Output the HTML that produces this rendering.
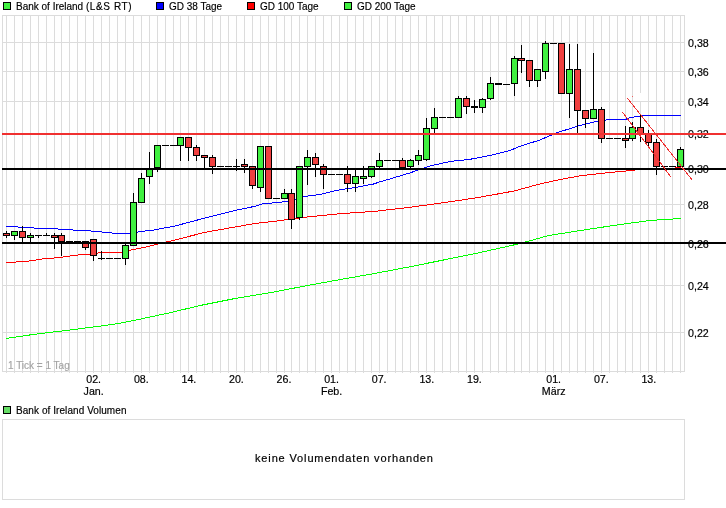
<!DOCTYPE html>
<html><head><meta charset="utf-8"><title>Bank of Ireland (L&amp;S RT)</title>
<style>
html,body{margin:0;padding:0;background:#fff;}
body{width:726px;height:508px;position:relative;overflow:hidden;font-family:"Liberation Sans",Arial,sans-serif;font-size:10.67px;color:#000;}
svg{position:absolute;left:0;top:0;}
.t{position:absolute;white-space:nowrap;line-height:12px;-webkit-text-stroke:0.18px currentColor;}
.s{transform:scaleX(0.937);transform-origin:0 0;}
.c{text-align:center;width:60px;margin-left:-30px;}
.lb{position:absolute;width:6px;height:6px;border:1px solid #000;}
</style></head><body>

<svg width="726" height="508" viewBox="0 0 726 508">
<g shape-rendering="crispEdges" fill="#dcdcdc">
<rect x="6" y="15" width="1" height="358"/>
<rect x="14" y="15" width="1" height="358"/>
<rect x="22" y="15" width="1" height="358"/>
<rect x="30" y="15" width="1" height="358"/>
<rect x="38" y="15" width="1" height="358"/>
<rect x="46" y="15" width="1" height="358"/>
<rect x="54" y="15" width="1" height="358"/>
<rect x="61" y="15" width="1" height="358"/>
<rect x="69" y="15" width="1" height="358"/>
<rect x="77" y="15" width="1" height="358"/>
<rect x="85" y="15" width="1" height="358"/>
<rect x="93" y="15" width="1" height="358"/>
<rect x="101" y="15" width="1" height="358"/>
<rect x="109" y="15" width="1" height="358"/>
<rect x="117" y="15" width="1" height="358"/>
<rect x="125" y="15" width="1" height="358"/>
<rect x="133" y="15" width="1" height="358"/>
<rect x="141" y="15" width="1" height="358"/>
<rect x="149" y="15" width="1" height="358"/>
<rect x="157" y="15" width="1" height="358"/>
<rect x="165" y="15" width="1" height="358"/>
<rect x="173" y="15" width="1" height="358"/>
<rect x="180" y="15" width="1" height="358"/>
<rect x="188" y="15" width="1" height="358"/>
<rect x="196" y="15" width="1" height="358"/>
<rect x="204" y="15" width="1" height="358"/>
<rect x="212" y="15" width="1" height="358"/>
<rect x="220" y="15" width="1" height="358"/>
<rect x="228" y="15" width="1" height="358"/>
<rect x="236" y="15" width="1" height="358"/>
<rect x="244" y="15" width="1" height="358"/>
<rect x="252" y="15" width="1" height="358"/>
<rect x="260" y="15" width="1" height="358"/>
<rect x="268" y="15" width="1" height="358"/>
<rect x="276" y="15" width="1" height="358"/>
<rect x="284" y="15" width="1" height="358"/>
<rect x="291" y="15" width="1" height="358"/>
<rect x="299" y="15" width="1" height="358"/>
<rect x="307" y="15" width="1" height="358"/>
<rect x="315" y="15" width="1" height="358"/>
<rect x="323" y="15" width="1" height="358"/>
<rect x="331" y="15" width="1" height="358"/>
<rect x="339" y="15" width="1" height="358"/>
<rect x="347" y="15" width="1" height="358"/>
<rect x="355" y="15" width="1" height="358"/>
<rect x="363" y="15" width="1" height="358"/>
<rect x="371" y="15" width="1" height="358"/>
<rect x="379" y="15" width="1" height="358"/>
<rect x="387" y="15" width="1" height="358"/>
<rect x="395" y="15" width="1" height="358"/>
<rect x="402" y="15" width="1" height="358"/>
<rect x="410" y="15" width="1" height="358"/>
<rect x="418" y="15" width="1" height="358"/>
<rect x="426" y="15" width="1" height="358"/>
<rect x="434" y="15" width="1" height="358"/>
<rect x="442" y="15" width="1" height="358"/>
<rect x="450" y="15" width="1" height="358"/>
<rect x="458" y="15" width="1" height="358"/>
<rect x="466" y="15" width="1" height="358"/>
<rect x="474" y="15" width="1" height="358"/>
<rect x="482" y="15" width="1" height="358"/>
<rect x="490" y="15" width="1" height="358"/>
<rect x="498" y="15" width="1" height="358"/>
<rect x="506" y="15" width="1" height="358"/>
<rect x="514" y="15" width="1" height="358"/>
<rect x="521" y="15" width="1" height="358"/>
<rect x="529" y="15" width="1" height="358"/>
<rect x="537" y="15" width="1" height="358"/>
<rect x="545" y="15" width="1" height="358"/>
<rect x="553" y="15" width="1" height="358"/>
<rect x="561" y="15" width="1" height="358"/>
<rect x="569" y="15" width="1" height="358"/>
<rect x="577" y="15" width="1" height="358"/>
<rect x="585" y="15" width="1" height="358"/>
<rect x="593" y="15" width="1" height="358"/>
<rect x="601" y="15" width="1" height="358"/>
<rect x="609" y="15" width="1" height="358"/>
<rect x="617" y="15" width="1" height="358"/>
<rect x="625" y="15" width="1" height="358"/>
<rect x="632" y="15" width="1" height="358"/>
<rect x="640" y="15" width="1" height="358"/>
<rect x="648" y="15" width="1" height="358"/>
<rect x="656" y="15" width="1" height="358"/>
<rect x="664" y="15" width="1" height="358"/>
<rect x="672" y="15" width="1" height="358"/>
<rect x="680" y="15" width="1" height="358"/>
<rect x="2" y="42" width="683" height="1"/>
<rect x="2" y="71" width="683" height="1"/>
<rect x="2" y="101" width="683" height="1"/>
<rect x="2" y="133" width="683" height="1"/>
<rect x="2" y="168" width="683" height="1"/>
<rect x="2" y="204" width="683" height="1"/>
<rect x="2" y="243" width="683" height="1"/>
<rect x="2" y="285" width="683" height="1"/>
<rect x="2" y="332" width="683" height="1"/>
<rect x="2" y="15" width="683" height="1"/><rect x="2" y="371" width="683" height="1"/><rect x="2" y="15" width="1" height="357"/><rect x="684" y="15" width="1" height="357"/>
<rect x="2" y="419" width="683" height="1"/><rect x="2" y="499" width="683" height="1"/><rect x="2" y="419" width="1" height="81"/><rect x="684" y="419" width="1" height="81"/>
</g>
<rect x="640" y="93" width="1" height="8" fill="#fff" shape-rendering="crispEdges"/>
<polyline fill="none" stroke="#00ff00" stroke-width="1" shape-rendering="crispEdges" points="6.4,338.4 33.7,334.4 67.5,330.3 101.0,326.0 118.0,323.6 135.0,320.2 168.7,313.0 202.5,305.0 236.0,298.3 273.7,292.0 307.5,285.5 341.0,279.4 375.0,273.4 408.7,267.0 442.5,260.2 476.0,253.4 514.0,244.9 527.4,241.5 547.8,235.7 581.7,230.3 615.5,225.2 649.4,220.5 681.0,218.5"/>
<polyline fill="none" stroke="#ff0000" stroke-width="1" shape-rendering="crispEdges" points="6.4,262.5 26.0,261.5 42.0,259.0 58.0,257.7 73.0,255.6 82.0,254.6 92.7,254.1 101.6,252.4 122.0,252.4 130.0,250.2 146.0,247.0 158.3,243.9 175.0,240.0 205.0,232.3 235.0,227.0 255.0,223.5 273.7,221.4 307.5,217.0 341.0,213.6 375.0,211.3 408.7,207.5 442.5,202.8 476.0,197.9 514.0,191.0 540.0,183.9 560.0,179.5 580.0,175.9 600.0,173.5 620.0,171.5 634.0,170.3 637.0,169.4 660.0,169.3 675.0,168.6 676.0,167.4 681.0,167.2"/>
<polyline fill="none" stroke="#0000ff" stroke-width="1" shape-rendering="crispEdges" points="6.4,226.5 17.0,226.6 19.0,227.4 33.0,227.6 35.0,228.4 57.0,228.6 59.0,229.4 72.0,229.6 74.0,230.4 88.0,230.7 114.0,233.2 131.0,233.4 140.0,231.5 151.0,230.5 175.0,226.0 205.0,218.0 235.0,210.4 255.0,206.3 263.0,203.8 278.7,202.4 288.0,201.3 303.0,197.0 310.0,195.7 320.0,194.5 336.0,190.5 355.0,187.5 373.6,184.0 380.0,181.8 390.0,178.9 410.0,172.9 430.0,165.9 450.0,161.5 470.0,159.3 490.0,155.5 510.0,150.4 521.8,145.6 540.0,140.0 556.0,133.0 580.0,125.5 600.0,120.5 612.0,119.5 626.0,119.5 627.0,118.5 631.0,117.5 636.5,116.5 644.0,115.5 681.0,115.5"/>
<g shape-rendering="crispEdges">
<rect x="35" y="235" width="7" height="1" fill="#000"/>
<rect x="43" y="235" width="7" height="1" fill="#000"/>
<rect x="66" y="241" width="7" height="1" fill="#000"/>
<rect x="74" y="241" width="7" height="1" fill="#000"/>
<rect x="98" y="258" width="7" height="1" fill="#000"/>
<rect x="106" y="258" width="7" height="1" fill="#000"/>
<rect x="114" y="258" width="7" height="1" fill="#000"/>
<rect x="162" y="145" width="7" height="1" fill="#000"/>
<rect x="170" y="145" width="7" height="1" fill="#000"/>
<rect x="217" y="166" width="7" height="1" fill="#000"/>
<rect x="225" y="166" width="7" height="1" fill="#000"/>
<rect x="233" y="166" width="7" height="1" fill="#000"/>
<rect x="273" y="198" width="7" height="1" fill="#000"/>
<rect x="328" y="174" width="7" height="1" fill="#000"/>
<rect x="336" y="174" width="7" height="1" fill="#000"/>
<rect x="384" y="160" width="7" height="1" fill="#000"/>
<rect x="392" y="160" width="7" height="1" fill="#000"/>
<rect x="439" y="117" width="7" height="1" fill="#000"/>
<rect x="447" y="117" width="7" height="1" fill="#000"/>
<rect x="471" y="106" width="7" height="2" fill="#000"/>
<rect x="495" y="83" width="7" height="2" fill="#000"/>
<rect x="503" y="84" width="7" height="1" fill="#000"/>
<rect x="550" y="43" width="7" height="1" fill="#000"/>
<rect x="606" y="138" width="7" height="1" fill="#000"/>
<rect x="614" y="138" width="7" height="1" fill="#000"/>
<rect x="661" y="166" width="7" height="1" fill="#000"/>
<rect x="669" y="166" width="7" height="1" fill="#000"/>
<rect x="6" y="231" width="1" height="7" fill="#000"/>
<rect x="3" y="233" width="7" height="3" fill="#000"/>
<rect x="4" y="234" width="5" height="1" fill="#f04040"/>
<rect x="14" y="231" width="1" height="9" fill="#000"/>
<rect x="11" y="231" width="7" height="5" fill="#000"/>
<rect x="12" y="232" width="5" height="3" fill="#40f040"/>
<rect x="22" y="226" width="1" height="16" fill="#000"/>
<rect x="19" y="231" width="7" height="7" fill="#000"/>
<rect x="20" y="232" width="5" height="5" fill="#f04040"/>
<rect x="30" y="233" width="1" height="9" fill="#000"/>
<rect x="27" y="235" width="7" height="3" fill="#000"/>
<rect x="28" y="236" width="5" height="1" fill="#40f040"/>
<rect x="38" y="235" width="1" height="3" fill="#000"/>
<rect x="46" y="233" width="1" height="3" fill="#000"/>
<rect x="54" y="233" width="1" height="16" fill="#000"/>
<rect x="51" y="235" width="7" height="3" fill="#000"/>
<rect x="52" y="236" width="5" height="1" fill="#f04040"/>
<rect x="61" y="233" width="1" height="23" fill="#000"/>
<rect x="58" y="235" width="7" height="7" fill="#000"/>
<rect x="59" y="236" width="5" height="5" fill="#f04040"/>
<rect x="85" y="242" width="1" height="8" fill="#000"/>
<rect x="82" y="241" width="7" height="7" fill="#000"/>
<rect x="83" y="242" width="5" height="5" fill="#f04040"/>
<rect x="93" y="239" width="1" height="22" fill="#000"/>
<rect x="90" y="239" width="7" height="17" fill="#000"/>
<rect x="91" y="240" width="5" height="15" fill="#f04040"/>
<rect x="101" y="251" width="1" height="9" fill="#000"/>
<rect x="125" y="243" width="1" height="22" fill="#000"/>
<rect x="122" y="245" width="7" height="14" fill="#000"/>
<rect x="123" y="246" width="5" height="12" fill="#40f040"/>
<rect x="133" y="193" width="1" height="53" fill="#000"/>
<rect x="130" y="202" width="7" height="44" fill="#000"/>
<rect x="131" y="203" width="5" height="42" fill="#40f040"/>
<rect x="141" y="173" width="1" height="29" fill="#000"/>
<rect x="138" y="178" width="7" height="25" fill="#000"/>
<rect x="139" y="179" width="5" height="23" fill="#40f040"/>
<rect x="149" y="152" width="1" height="32" fill="#000"/>
<rect x="146" y="168" width="7" height="9" fill="#000"/>
<rect x="147" y="169" width="5" height="7" fill="#40f040"/>
<rect x="157" y="145" width="1" height="27" fill="#000"/>
<rect x="154" y="145" width="7" height="23" fill="#000"/>
<rect x="155" y="146" width="5" height="21" fill="#40f040"/>
<rect x="180" y="137" width="1" height="24" fill="#000"/>
<rect x="177" y="137" width="7" height="9" fill="#000"/>
<rect x="178" y="138" width="5" height="7" fill="#40f040"/>
<rect x="188" y="137" width="1" height="24" fill="#000"/>
<rect x="185" y="137" width="7" height="11" fill="#000"/>
<rect x="186" y="138" width="5" height="9" fill="#f04040"/>
<rect x="196" y="145" width="1" height="16" fill="#000"/>
<rect x="193" y="147" width="7" height="9" fill="#000"/>
<rect x="194" y="148" width="5" height="7" fill="#f04040"/>
<rect x="204" y="156" width="1" height="12" fill="#000"/>
<rect x="201" y="155" width="7" height="3" fill="#000"/>
<rect x="202" y="156" width="5" height="1" fill="#f04040"/>
<rect x="212" y="155" width="1" height="19" fill="#000"/>
<rect x="209" y="157" width="7" height="10" fill="#000"/>
<rect x="210" y="158" width="5" height="8" fill="#f04040"/>
<rect x="236" y="159" width="1" height="12" fill="#000"/>
<rect x="244" y="159" width="1" height="14" fill="#000"/>
<rect x="241" y="164" width="7" height="3" fill="#000"/>
<rect x="242" y="165" width="5" height="1" fill="#f04040"/>
<rect x="252" y="166" width="1" height="23" fill="#000"/>
<rect x="249" y="166" width="7" height="20" fill="#000"/>
<rect x="250" y="167" width="5" height="18" fill="#f04040"/>
<rect x="260" y="146" width="1" height="46" fill="#000"/>
<rect x="257" y="146" width="7" height="42" fill="#000"/>
<rect x="258" y="147" width="5" height="40" fill="#40f040"/>
<rect x="268" y="146" width="1" height="52" fill="#000"/>
<rect x="265" y="146" width="7" height="53" fill="#000"/>
<rect x="266" y="147" width="5" height="51" fill="#f04040"/>
<rect x="284" y="189" width="1" height="9" fill="#000"/>
<rect x="281" y="193" width="7" height="6" fill="#000"/>
<rect x="282" y="194" width="5" height="4" fill="#40f040"/>
<rect x="291" y="189" width="1" height="40" fill="#000"/>
<rect x="288" y="193" width="7" height="27" fill="#000"/>
<rect x="289" y="194" width="5" height="25" fill="#f04040"/>
<rect x="299" y="166" width="1" height="54" fill="#000"/>
<rect x="296" y="166" width="7" height="52" fill="#000"/>
<rect x="297" y="167" width="5" height="50" fill="#40f040"/>
<rect x="307" y="150" width="1" height="35" fill="#000"/>
<rect x="304" y="157" width="7" height="10" fill="#000"/>
<rect x="305" y="158" width="5" height="8" fill="#40f040"/>
<rect x="315" y="153" width="1" height="24" fill="#000"/>
<rect x="312" y="157" width="7" height="8" fill="#000"/>
<rect x="313" y="158" width="5" height="6" fill="#f04040"/>
<rect x="323" y="164" width="1" height="25" fill="#000"/>
<rect x="320" y="166" width="7" height="9" fill="#000"/>
<rect x="321" y="167" width="5" height="7" fill="#f04040"/>
<rect x="347" y="166" width="1" height="26" fill="#000"/>
<rect x="344" y="174" width="7" height="10" fill="#000"/>
<rect x="345" y="175" width="5" height="8" fill="#f04040"/>
<rect x="355" y="169" width="1" height="23" fill="#000"/>
<rect x="352" y="176" width="7" height="8" fill="#000"/>
<rect x="353" y="177" width="5" height="6" fill="#40f040"/>
<rect x="363" y="166" width="1" height="18" fill="#000"/>
<rect x="360" y="176" width="7" height="3" fill="#000"/>
<rect x="361" y="177" width="5" height="1" fill="#40f040"/>
<rect x="371" y="166" width="1" height="12" fill="#000"/>
<rect x="368" y="166" width="7" height="11" fill="#000"/>
<rect x="369" y="167" width="5" height="9" fill="#40f040"/>
<rect x="379" y="153" width="1" height="15" fill="#000"/>
<rect x="376" y="160" width="7" height="7" fill="#000"/>
<rect x="377" y="161" width="5" height="5" fill="#40f040"/>
<rect x="402" y="158" width="1" height="12" fill="#000"/>
<rect x="399" y="160" width="7" height="8" fill="#000"/>
<rect x="400" y="161" width="5" height="6" fill="#f04040"/>
<rect x="410" y="159" width="1" height="10" fill="#000"/>
<rect x="407" y="160" width="7" height="7" fill="#000"/>
<rect x="408" y="161" width="5" height="5" fill="#40f040"/>
<rect x="418" y="150" width="1" height="15" fill="#000"/>
<rect x="415" y="155" width="7" height="6" fill="#000"/>
<rect x="416" y="156" width="5" height="4" fill="#40f040"/>
<rect x="426" y="118" width="1" height="43" fill="#000"/>
<rect x="423" y="128" width="7" height="32" fill="#000"/>
<rect x="424" y="129" width="5" height="30" fill="#40f040"/>
<rect x="434" y="108" width="1" height="25" fill="#000"/>
<rect x="431" y="117" width="7" height="12" fill="#000"/>
<rect x="432" y="118" width="5" height="10" fill="#40f040"/>
<rect x="458" y="96" width="1" height="21" fill="#000"/>
<rect x="455" y="98" width="7" height="20" fill="#000"/>
<rect x="456" y="99" width="5" height="18" fill="#40f040"/>
<rect x="466" y="96" width="1" height="18" fill="#000"/>
<rect x="463" y="98" width="7" height="9" fill="#000"/>
<rect x="464" y="99" width="5" height="7" fill="#f04040"/>
<rect x="474" y="100" width="1" height="13" fill="#000"/>
<rect x="482" y="98" width="1" height="15" fill="#000"/>
<rect x="479" y="99" width="7" height="9" fill="#000"/>
<rect x="480" y="100" width="5" height="7" fill="#40f040"/>
<rect x="490" y="77" width="1" height="23" fill="#000"/>
<rect x="487" y="83" width="7" height="16" fill="#000"/>
<rect x="488" y="84" width="5" height="14" fill="#40f040"/>
<rect x="514" y="56" width="1" height="40" fill="#000"/>
<rect x="511" y="58" width="7" height="26" fill="#000"/>
<rect x="512" y="59" width="5" height="24" fill="#40f040"/>
<rect x="521" y="45" width="1" height="28" fill="#000"/>
<rect x="518" y="58" width="7" height="3" fill="#000"/>
<rect x="519" y="59" width="5" height="1" fill="#f04040"/>
<rect x="529" y="60" width="1" height="27" fill="#000"/>
<rect x="526" y="60" width="7" height="21" fill="#000"/>
<rect x="527" y="61" width="5" height="19" fill="#f04040"/>
<rect x="537" y="69" width="1" height="18" fill="#000"/>
<rect x="534" y="69" width="7" height="12" fill="#000"/>
<rect x="535" y="70" width="5" height="10" fill="#40f040"/>
<rect x="545" y="41" width="1" height="38" fill="#000"/>
<rect x="542" y="43" width="7" height="29" fill="#000"/>
<rect x="543" y="44" width="5" height="27" fill="#40f040"/>
<rect x="561" y="43" width="1" height="51" fill="#000"/>
<rect x="558" y="43" width="7" height="51" fill="#000"/>
<rect x="559" y="44" width="5" height="49" fill="#f04040"/>
<rect x="569" y="44" width="1" height="74" fill="#000"/>
<rect x="566" y="69" width="7" height="25" fill="#000"/>
<rect x="567" y="70" width="5" height="23" fill="#40f040"/>
<rect x="577" y="44" width="1" height="90" fill="#000"/>
<rect x="574" y="69" width="7" height="42" fill="#000"/>
<rect x="575" y="70" width="5" height="40" fill="#f04040"/>
<rect x="585" y="110" width="1" height="18" fill="#000"/>
<rect x="582" y="110" width="7" height="9" fill="#000"/>
<rect x="583" y="111" width="5" height="7" fill="#f04040"/>
<rect x="593" y="53" width="1" height="65" fill="#000"/>
<rect x="590" y="109" width="7" height="10" fill="#000"/>
<rect x="591" y="110" width="5" height="8" fill="#40f040"/>
<rect x="601" y="107" width="1" height="36" fill="#000"/>
<rect x="598" y="109" width="7" height="30" fill="#000"/>
<rect x="599" y="110" width="5" height="28" fill="#f04040"/>
<rect x="625" y="126" width="1" height="22" fill="#000"/>
<rect x="622" y="138" width="7" height="3" fill="#000"/>
<rect x="623" y="139" width="5" height="1" fill="#f04040"/>
<rect x="632" y="122" width="1" height="19" fill="#000"/>
<rect x="629" y="127" width="7" height="12" fill="#000"/>
<rect x="630" y="128" width="5" height="10" fill="#40f040"/>
<rect x="640" y="115" width="1" height="27" fill="#000"/>
<rect x="637" y="127" width="7" height="8" fill="#000"/>
<rect x="638" y="128" width="5" height="6" fill="#f04040"/>
<rect x="648" y="130" width="1" height="16" fill="#000"/>
<rect x="645" y="134" width="7" height="9" fill="#000"/>
<rect x="646" y="135" width="5" height="7" fill="#f04040"/>
<rect x="656" y="139" width="1" height="36" fill="#000"/>
<rect x="653" y="142" width="7" height="25" fill="#000"/>
<rect x="654" y="143" width="5" height="23" fill="#f04040"/>
<rect x="680" y="147" width="1" height="19" fill="#000"/>
<rect x="677" y="149" width="7" height="18" fill="#000"/>
<rect x="678" y="150" width="5" height="16" fill="#40f040"/>
</g>
</svg>
<div class="lb" style="left:3px;top:2px;background:#40f040"></div><div class="t s" style="left:15.6px;top:0px">Bank of Ireland <span style="letter-spacing:0.65px">(L&amp;S RT)</span></div>
<div class="lb" style="left:156px;top:2px;background:#0000ff"></div><div class="t s" style="left:168.6px;top:0px">GD 38 Tage</div>
<div class="lb" style="left:247px;top:2px;background:#ff0000"></div><div class="t s" style="left:259.6px;top:0px">GD 100 Tage</div>
<div class="lb" style="left:344px;top:2px;background:#40f040"></div><div class="t s" style="left:356.6px;top:0px">GD 200 Tage</div>
<div class="lb" style="left:3px;top:406px;background:#66dd66"></div><div class="t s" style="left:15.6px;top:404px"><span style="letter-spacing:0.08px">Bank of Ireland Volumen</span></div>
<div class="t" style="left:688px;top:37px">0,38</div>
<div class="t" style="left:688px;top:66px">0,36</div>
<div class="t" style="left:688px;top:96px">0,34</div>
<div class="t" style="left:688px;top:128px">0,32</div>
<div class="t" style="left:688px;top:163px">0,30</div>
<div class="t" style="left:688px;top:199px">0,28</div>
<div class="t" style="left:688px;top:238px">0,26</div>
<div class="t" style="left:688px;top:280px">0,24</div>
<div class="t" style="left:688px;top:327px">0,22</div>
<div class="t c" style="left:93.7px;top:373px">02.<br>Jan.</div>
<div class="t c" style="left:141.3px;top:373px">08.<br></div>
<div class="t c" style="left:188.9px;top:373px">14.<br></div>
<div class="t c" style="left:236.4px;top:373px">20.<br></div>
<div class="t c" style="left:284.0px;top:373px">26.<br></div>
<div class="t c" style="left:331.6px;top:373px">01.<br>Feb.</div>
<div class="t c" style="left:379.2px;top:373px">07.<br></div>
<div class="t c" style="left:426.8px;top:373px">13.<br></div>
<div class="t c" style="left:474.4px;top:373px">19.<br></div>
<div class="t c" style="left:553.7px;top:373px">01.<br>März</div>
<div class="t c" style="left:601.3px;top:373px">07.<br></div>
<div class="t c" style="left:648.8px;top:373px">13.<br></div>
<div class="t s" style="left:8px;top:359px;color:#a4a4a4">1 Tick = 1 Tag</div>
<div class="t" style="left:255px;top:451px;font-size:11px;line-height:14px;letter-spacing:0.86px">keine Volumendaten vorhanden</div>
<svg width="726" height="508" viewBox="0 0 726 508">
<rect x="2" y="133" width="724" height="2" fill="#f03030" shape-rendering="crispEdges"/>
<rect x="2" y="168" width="724" height="2" fill="#000" shape-rendering="crispEdges"/>
<rect x="2" y="242" width="724" height="2" fill="#000" shape-rendering="crispEdges"/>
<line x1="627.3" y1="98" x2="691.8" y2="179.5" stroke="#f03030" stroke-width="1" shape-rendering="crispEdges"/>
<line x1="622.5" y1="112" x2="670.9" y2="176.9" stroke="#f03030" stroke-width="1" shape-rendering="crispEdges"/>
<rect x="632" y="96" width="1" height="1" fill="#f06060" shape-rendering="crispEdges"/>
</svg>
</body></html>
